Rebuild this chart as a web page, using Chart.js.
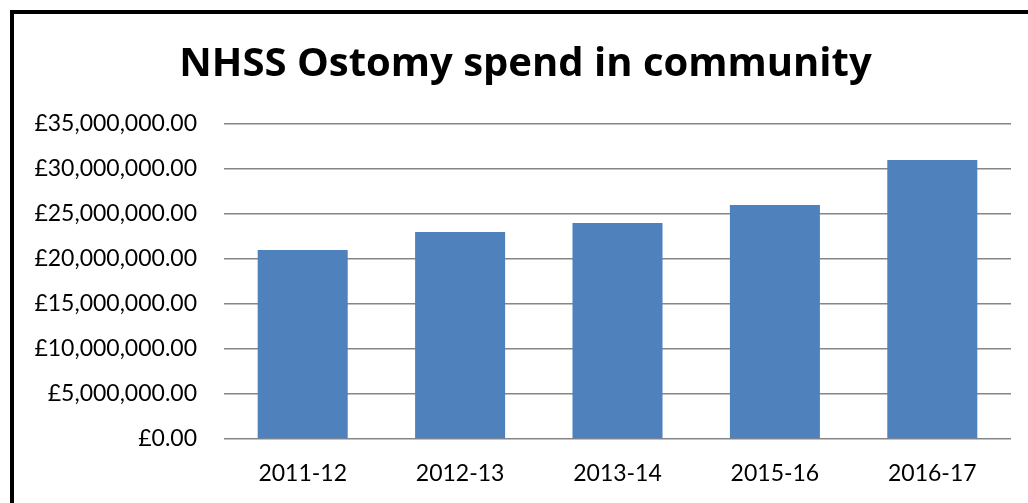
<!DOCTYPE html>
<html>
<head>
<meta charset="utf-8">
<script src="https://cdn.jsdelivr.net/npm/chart.js@4/dist/chart.umd.min.js"></script>
<style>
    html, body { margin: 0; padding: 0; background: #fff; overflow: hidden; }
    #wrap { position: relative; width: 1028px; height: 503px; }
    #frame {
        position: absolute; left: 10px; top: 10px; width: 1100px; height: 600px;
        border-left: 4px solid #000; border-top: 4px solid #000;
    }
    canvas { position: absolute; left: 0; top: 0; }
</style>
</head>
<body>
<div id="wrap">
    <div id="frame"></div>
    <canvas id="chart-spend" width="1028" height="503"></canvas>
</div>
<script>
const years = ['2011-12', '2012-13', '2013-14', '2015-16', '2016-17'];
const spend = [21000000, 23000000, 24000000, 26000000, 31000000];
const chartTitle = 'NHSS Ostomy spend in community';

function formatPounds(value) {
    return '£' + Number(value).toLocaleString('en-GB', { minimumFractionDigits: 2, maximumFractionDigits: 2 });
}

// the title sits a little right of the canvas centre in the original
const shiftTitle = {
    id: 'shiftTitle',
    afterLayout: function (chart) {
        if (chart.titleBlock) {
            chart.titleBlock.left += 40;
        }
    }
};

const config = {
    type: 'bar',
    data: {
        labels: years,
        datasets: [
            {
                data: spend,
                backgroundColor: '#4F81BD',
                barPercentage: 0.572,
                categoryPercentage: 1
            }
        ]
    },
    options: {
        responsive: false,
        animation: false,
        layout: {
            padding: { left: 0, right: 17, top: 0, bottom: 0 }
        },
        plugins: {
            legend: { display: false },
            tooltip: { enabled: false },
            title: {
                display: true,
                text: chartTitle,
                color: '#000',
                font: { family: 'Open Sans', size: 40, weight: 'bold', lineHeight: 1.2 },
                padding: { top: 41, bottom: 35 }
            }
        },
        scales: {
            x: {
                grid: { display: false, drawTicks: false },
                border: { display: false },
                ticks: {
                    color: '#000',
                    padding: 21,
                    font: { family: 'Lato', size: 23 }
                },
                afterFit: function (scale) { scale.height = 64; }
            },
            y: {
                min: 0,
                max: 35000000,
                grid: { color: '#868686', lineWidth: 1.5, drawTicks: false },
                border: { display: false },
                ticks: {
                    stepSize: 5000000,
                    color: '#000',
                    padding: 27,
                    font: { family: 'Lato', size: 23 },
                    callback: function (value) { return formatPounds(value); }
                },
                afterFit: function (scale) { scale.width = 224; }
            }
        }
    },
    plugins: [shiftTitle]
};

const chart = new Chart(document.getElementById('chart-spend'), config);
</script>
</body>
</html>
